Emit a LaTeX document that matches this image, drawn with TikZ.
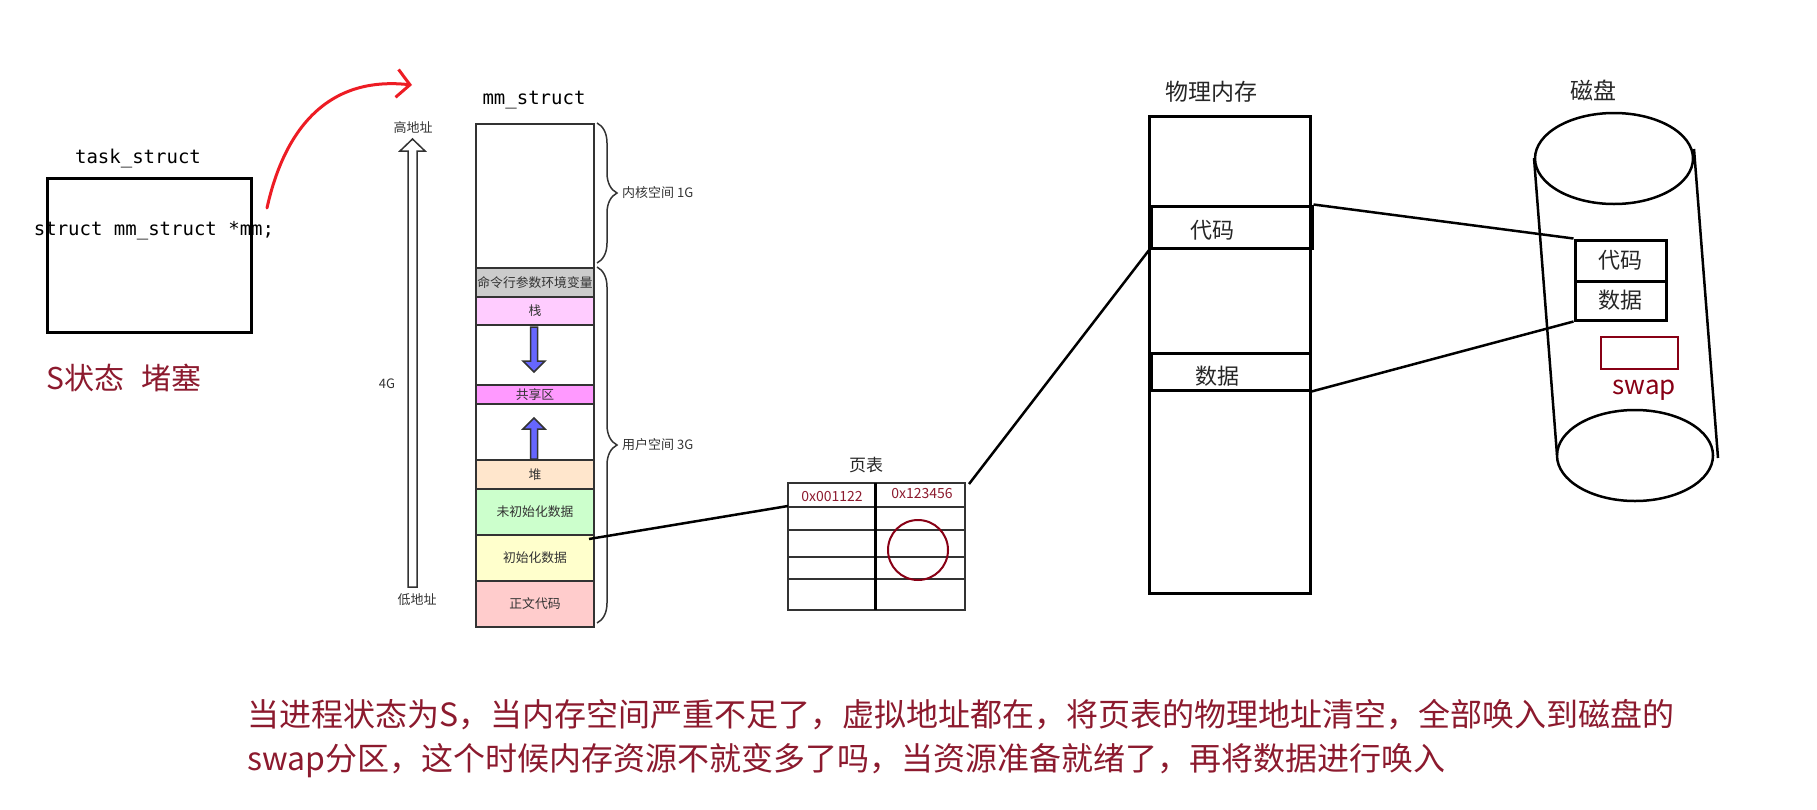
\documentclass[tikz,border=0pt]{standalone}
\usepackage{fontspec}
\setmainfont{Noto Sans CJK SC}
\newfontfamily\codefont{DejaVu Sans Mono}
\usetikzlibrary{arrows.meta,calc,decorations.pathreplacing}

\definecolor{inkgray}{HTML}{333333}
\definecolor{markred}{HTML}{880015}
\definecolor{noteRed}{HTML}{8C1A2E}
\definecolor{penred}{HTML}{ED1C24}
\definecolor{argsgray}{HTML}{CCCCCC}
\definecolor{stackpink}{HTML}{FFCCFF}
\definecolor{sharedpink}{HTML}{FF99FF}
\definecolor{heaporange}{HTML}{FFE6CC}
\definecolor{bssgreen}{HTML}{CCFFCC}
\definecolor{datayellow}{HTML}{FFFFCC}
\definecolor{textred}{HTML}{FFCCCC}
\definecolor{growblue}{HTML}{6666FF}

\newcommand{\fsz}[1]{\fontsize{#1}{#1}\selectfont}

\begin{document}
\begin{tikzpicture}[
    x=1pt, y=-1pt,
    mmrow/.style={draw=inkgray, line width=2pt, minimum width=118pt, inner sep=0pt, anchor=north west, font=\fsz{12.8}, text=inkgray},
    tag/.style={font=\fsz{13}, text=inkgray, inner sep=0pt},
    heading/.style={font=\fsz{23}, text=black!85, inner sep=0pt},
    mono/.style={font=\codefont\fsz{19}, inner sep=0pt},
    membox/.style={draw, line width=3pt, inner sep=0pt},
    addr/.style={font=\fsz{14}, text=noteRed, inner sep=0pt},
    note/.style={font=\fsz{32}, text=noteRed, inner sep=0pt, anchor=west},
    wire/.style={line width=2.5pt},
    span/.style={decorate, decoration={brace, amplitude=20pt}, draw=inkgray, line width=1.5pt}
]
    \useasboundingbox (0,0) rectangle (1817,809);

    % task_struct (left)
    \node[mono] (tasklbl) at (138,159) {task\_struct};
    \node[membox, minimum width=204pt, minimum height=154pt] (task) at (149,255) {};
    \node[mono] (mmfield) at (154,231) {struct mm\_struct *mm;};
    \node[font=\fsz{30}, text=noteRed, anchor=west, inner sep=0pt] (state) at (46,378) {S状态\hspace{0.36em} 堵塞};

    % pointer to mm_struct
    \coordinate (ptrtail) at (267,208);
    \coordinate (ptrhead) at (412,85);
    \draw[penred, line width=3pt, line cap=round, -{Straight Barb[length=13pt, width=28pt]}] (ptrtail) .. controls (282,140) and (320,75) .. (ptrhead);

    % address arrow
    \node[tag] (high) at (413,128) {高地址};
    \node[tag] (size) at (387,384) {4G};
    \node[tag] (low) at (417,600) {低地址};
    \draw[inkgray, line width=1.5pt] (408,587) -- (408,151) -- (400,151) -- (412.5,139) -- (425,151) -- (417,151) -- (417,587) -- cycle;

    % mm_struct column
    \node[mono] (mmlbl) at (534,100) {mm\_struct};
    \node[mmrow, minimum height=144pt] (kernel) at (475,123) {};
    \node[mmrow, minimum height=29pt, fill=argsgray] (args) at (475,267) {命令行参数环境变量};
    \node[mmrow, minimum height=28pt, fill=stackpink] (stack) at (475,296) {栈};
    \node[mmrow, minimum height=60pt] (gapa) at (475,324) {};
    \node[mmrow, minimum height=19pt, fill=sharedpink] (shared) at (475,384) {共享区};
    \node[mmrow, minimum height=56pt] (gapb) at (475,403) {};
    \node[mmrow, minimum height=29pt, fill=heaporange] (heap) at (475,459) {堆};
    \node[mmrow, minimum height=46pt, fill=bssgreen] (bss) at (475,488) {未初始化数据};
    \node[mmrow, minimum height=46pt, fill=datayellow] (idata) at (475,534) {初始化数据};
    \node[mmrow, minimum height=46pt, fill=textred] (code) at (475,580) {正文代码};

    % growth arrows
    \draw[inkgray, fill=growblue, line width=1.5pt] (530.5,327) -- (530.5,361) -- (523,361) -- (534,372) -- (545,361) -- (537.5,361) -- (537.5,327) -- cycle;
    \draw[inkgray, fill=growblue, line width=1.5pt] (530.5,459) -- (530.5,429) -- (523,429) -- (534,418) -- (545,429) -- (537.5,429) -- (537.5,459) -- cycle;

    % braces
    \draw[span] (597,123) -- (597,263);
    \node[tag, anchor=west] (kernlbl) at (622,193) {内核空间 1G};
    \draw[span] (597,267) -- (597,623);
    \node[tag, anchor=west] (userlbl) at (622,445) {用户空间 3G};

    % page table
    \node[heading, font=\fsz{17}] (ptlbl) at (866,465) {页表};
    \node[draw=black!80, line width=2pt, minimum width=177pt, minimum height=127pt, inner sep=0pt] (ptab) at (876.5,546.5) {};
    \foreach \y in {507,530,557,579} {
        \draw[black!80, line width=2pt] (788,\y) -- (965,\y);
    }
    \draw[line width=3pt] (875,483) -- (875,610);
    \node[addr] (va) at (832,496) {0x001122};
    \node[addr] (pa) at (922,494) {0x123456};
    \node[circle, draw=markred, line width=2pt, minimum size=60pt, inner sep=0pt] (clear) at (918,550) {};
    \coordinate (ptin) at (788,506);

    % physical memory
    \node[heading] (physlbl) at (1211,92) {物理内存};
    \node[membox, minimum width=161pt, minimum height=477pt] (phys) at (1230,354.5) {};
    \node[membox, minimum width=161pt, minimum height=42pt] (pcode) at (1231.5,227) {};
    \node[heading, font=\fsz{22}] (pcodelbl) at (1212,230) {代码};
    \node[membox, minimum width=159pt, minimum height=37pt] (pdata) at (1230.5,371.5) {};
    \node[heading, font=\fsz{22}] (pdatalbl) at (1217,376) {数据};

    % disk
    \node[heading] (disklbl) at (1593,90) {磁盘};
    \draw[line width=2.5pt] (1614,158.5) ellipse [x radius=79, y radius=45.5];
    \draw[line width=2.5pt] (1635,455.5) ellipse [x radius=78, y radius=45.5];
    \draw[line width=2.5pt] (1534,158) -- (1557,455);
    \draw[line width=2.5pt] (1694,149) -- (1718,458);
    \node[membox, minimum width=91pt, minimum height=41pt, font=\fsz{22}, text=black!85] (dcode) at (1620.5,260.5) {代码};
    \node[membox, minimum width=91pt, minimum height=39pt, font=\fsz{22}, text=black!85] (ddata) at (1620.5,300.5) {数据};
    \node[draw=markred, line width=2.5pt, minimum width=77pt, minimum height=32pt, inner sep=0pt] (swapbox) at (1639.5,353) {};
    \node[font=\fsz{26}, text=markred, inner sep=0pt] (swaplbl) at (1644,390) {swap};

    % mappings
    \draw[wire] ($(idata.north east)+(-6,5)$) -- (ptin);
    \draw[wire] ($(ptab.north east)+(3,2)$) -- (pcode.south west);
    \draw[wire] (pcode.north east) -- (dcode.north west);
    \draw[wire] (pdata.south east) -- (ddata.south west);

    % note
    \node[note] (note1) at (247,715) {当进程状态为S，当内存空间严重不足了，虚拟地址都在，将页表的物理地址清空，全部唤入到磁盘的};
    \node[note] (note2) at (247,761) {swap分区，这个时候内存资源不就变多了吗，当资源准备就绪了，再将数据进行唤入};
\end{tikzpicture}
\end{document}
